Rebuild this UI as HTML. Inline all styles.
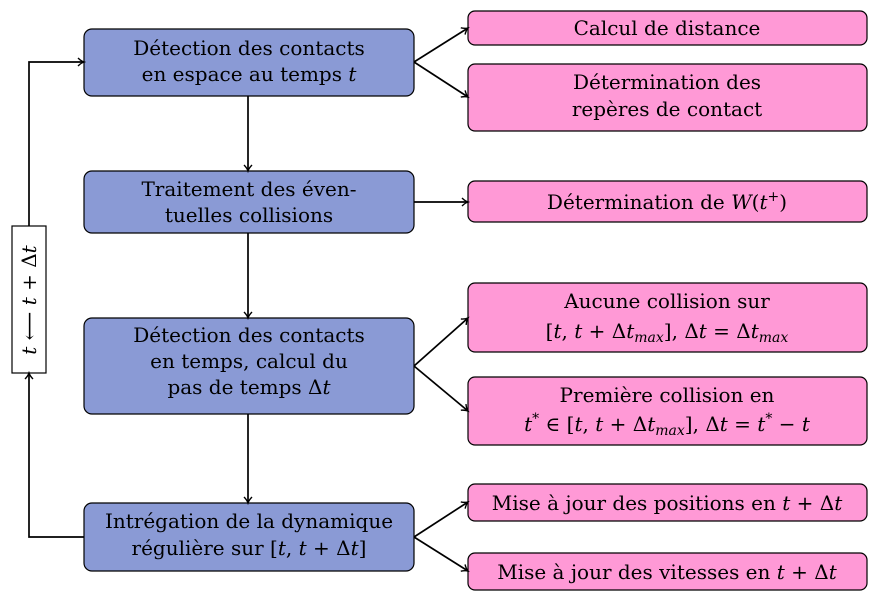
<!DOCTYPE html>
<html><head><meta charset="utf-8"><style>
body{margin:0;background:#fff}
svg{display:block}
text{font-family:"DejaVu Serif","Liberation Serif",serif;font-size:20px;fill:#000;text-anchor:middle}
.i{font-style:italic}
</style></head><body>
<svg width="879" height="605" viewBox="0 0 879 605">
<defs><marker id="a" markerWidth="10" markerHeight="10" refX="8" refY="5" orient="auto" markerUnits="userSpaceOnUse">
<path d="M2,1 Q5,4 8,5 Q5,6 2,9" fill="none" stroke="#000" stroke-width="1.4"/></marker></defs>
<g stroke="#000" stroke-width="1.2">
<rect x="84" y="29" width="330" height="67" rx="8" fill="#8a9ad5"/>
<rect x="84" y="171" width="330" height="62" rx="8" fill="#8a9ad5"/>
<rect x="84" y="318" width="330" height="96" rx="8" fill="#8a9ad5"/>
<rect x="84" y="503" width="330" height="68" rx="8" fill="#8a9ad5"/>
<rect x="468" y="11" width="399" height="34" rx="7" fill="#ff99d6"/>
<rect x="468" y="64" width="399" height="67" rx="7" fill="#ff99d6"/>
<rect x="468" y="181" width="399" height="41" rx="7" fill="#ff99d6"/>
<rect x="468" y="283" width="399" height="69" rx="7" fill="#ff99d6"/>
<rect x="468" y="377" width="399" height="68" rx="7" fill="#ff99d6"/>
<rect x="468" y="484" width="399" height="37" rx="7" fill="#ff99d6"/>
<rect x="468" y="553" width="399" height="37" rx="7" fill="#ff99d6"/>
<rect x="12" y="226" width="34" height="147" fill="#fff"/>
</g>
<g stroke="#000" stroke-width="1.7" fill="none" marker-end="url(#a)">
<line x1="414" y1="62" x2="468" y2="28"/>
<line x1="414" y1="62" x2="468" y2="97"/>
<line x1="414" y1="202" x2="468" y2="202"/>
<line x1="414" y1="366" x2="468" y2="318"/>
<line x1="414" y1="366" x2="468" y2="411"/>
<line x1="414" y1="537" x2="468" y2="502"/>
<line x1="414" y1="537" x2="468" y2="571"/>
<line x1="248" y1="96" x2="248" y2="171"/>
<line x1="248" y1="233" x2="248" y2="318"/>
<line x1="248" y1="414" x2="248" y2="503"/>
<polyline points="29,226 29,62 84,62"/>
<polyline points="84,537 29,537 29,373"/>
</g>
<text x="249" y="55">Détection des contacts</text>
<text x="249" y="81">en espace au temps <tspan class="i">t</tspan></text>
<text x="249" y="196">Traitement des éven-</text>
<text x="249" y="222">tuelles collisions</text>
<text x="249" y="342">Détection des contacts</text>
<text x="249" y="368">en temps, calcul du</text>
<text x="249" y="394">pas de temps Δ<tspan class="i">t</tspan></text>
<text x="249" y="528">Intrégation de la dynamique</text>
<text x="249" y="555">régulière sur [<tspan class="i">t</tspan>, <tspan class="i">t</tspan> + Δ<tspan class="i">t</tspan>]</text>
<text x="667" y="35">Calcul de distance</text>
<text x="667" y="89">Détermination des</text>
<text x="667" y="116">repères de contact</text>
<text x="667" y="209">Détermination de <tspan class="i">W</tspan>(<tspan class="i">t</tspan><tspan dy="-8" font-size="14">+</tspan><tspan dy="8">)</tspan></text>
<text x="667" y="308">Aucune collision sur</text>
<text x="667" y="338">[<tspan class="i">t</tspan>, <tspan class="i">t</tspan> + Δ<tspan class="i">t</tspan><tspan class="i" font-size="14" dy="4">max</tspan><tspan dy="-4">], Δ</tspan><tspan class="i">t</tspan> = Δ<tspan class="i">t</tspan><tspan class="i" font-size="14" dy="4">max</tspan></text>
<text x="667" y="402">Première collision en</text>
<text x="667" y="431"><tspan class="i">t</tspan><tspan dy="-8" font-size="14">*</tspan><tspan dy="8"> ∈ [</tspan><tspan class="i">t</tspan>, <tspan class="i">t</tspan> + Δ<tspan class="i">t</tspan><tspan class="i" font-size="14" dy="4">max</tspan><tspan dy="-4">], Δ</tspan><tspan class="i">t</tspan> = <tspan class="i">t</tspan><tspan dy="-8" font-size="14">*</tspan><tspan dy="8"> − </tspan><tspan class="i">t</tspan></text>
<text x="667" y="510">Mise à jour des positions en <tspan class="i">t</tspan> + Δ<tspan class="i">t</tspan></text>
<text x="667" y="579">Mise à jour des vitesses en <tspan class="i">t</tspan> + Δ<tspan class="i">t</tspan></text>
<text transform="translate(36,300) rotate(-90)"><tspan class="i">t</tspan> ⟵ <tspan class="i">t</tspan> + Δ<tspan class="i">t</tspan></text>
</svg>
</body></html>
